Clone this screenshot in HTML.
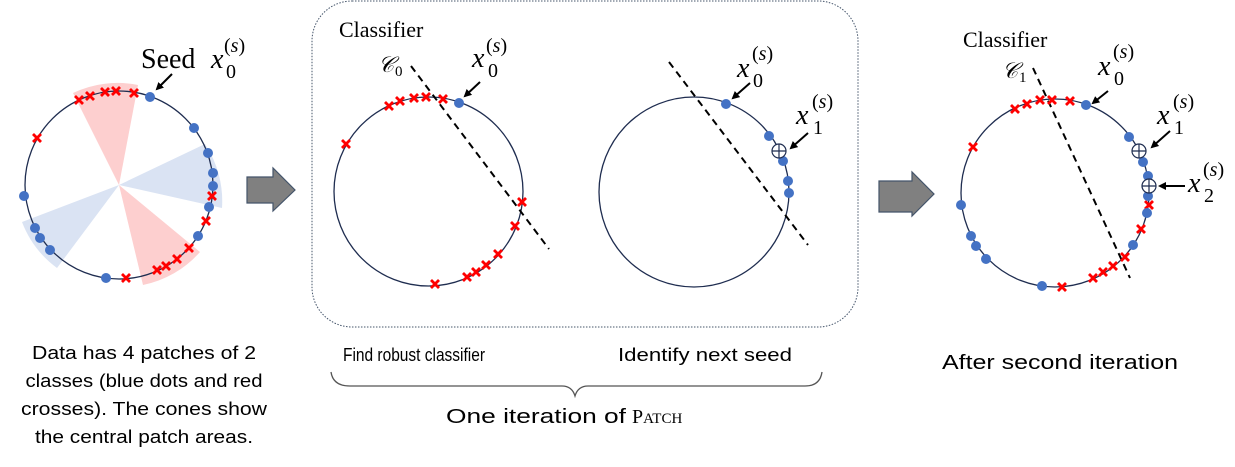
<!DOCTYPE html>
<html><head><meta charset="utf-8"><style>
html,body{margin:0;padding:0;background:#fff;}
svg{display:block;}
.m{font-family:"Liberation Serif",serif;font-style:italic;}
.r{font-family:"Liberation Serif",serif;}
.s{font-family:"Liberation Sans",sans-serif;fill:#000;}
</style></head><body>
<svg width="1235" height="467" viewBox="0 0 1235 467" xmlns="http://www.w3.org/2000/svg">
<defs>
<path id="x" d="M-4,-4L4,4M-4,4L4,-4" stroke="#ff0000" stroke-width="2.8" fill="none"/>
<circle id="d" r="5" fill="#4472C4"/>
<g id="o"><circle r="7" fill="#fff" stroke="#1f2d50" stroke-width="1.2"/><path d="M-7,0H7M0,-7V7" stroke="#1f2d50" stroke-width="1.2"/></g>
<marker id="ah" markerWidth="8" markerHeight="8" refX="6" refY="4" orient="auto" markerUnits="userSpaceOnUse"><path d="M0,0L8,4L0,8z" fill="#000"/></marker>
</defs>

<!-- LEFT -->
<g transform="translate(119,185)">
<path d="M0,0L-46,-92A103,103 0 0 1 19,-100Z" fill="#fdcfcf"/>
<path d="M0,0L24,100A103,103 0 0 0 81,67Z" fill="#fdcfcf"/>
<path d="M0,0L86,-41A103,103 0 0 1 103,23Z" fill="#dae3f3"/>
<path d="M0,0L-97,37A103,103 0 0 0 -62,83Z" fill="#dae3f3"/>
</g>
<circle cx="119" cy="185" r="94" fill="none" stroke="#1f2d50" stroke-width="1.3"/>
<use href="#x" x="79" y="100"/><use href="#x" x="90" y="96"/><use href="#x" x="105" y="92"/><use href="#x" x="116" y="91"/><use href="#x" x="134" y="93"/>
<use href="#d" x="150" y="97"/><use href="#d" x="194" y="128"/><use href="#d" x="208" y="153"/><use href="#d" x="213" y="173"/><use href="#d" x="213" y="186"/>
<use href="#x" x="212" y="196"/><use href="#d" x="209" y="207"/><use href="#x" x="206" y="221"/><use href="#d" x="198" y="236"/>
<use href="#x" x="189" y="248"/><use href="#x" x="177" y="259"/><use href="#x" x="166" y="266"/><use href="#x" x="157" y="270"/>
<use href="#d" x="106" y="278"/><use href="#x" x="126" y="278"/>
<use href="#d" x="35" y="228"/><use href="#d" x="40" y="238"/><use href="#d" x="50" y="250"/><use href="#d" x="24" y="196"/><use href="#x" x="37" y="138"/>
<text x="141" y="68" class="r" font-size="28">Seed</text>
<text x="211" y="68" class="m" font-size="28">x</text>
<text x="226" y="78" class="r" font-size="20">0</text>
<text x="224" y="52" class="r" font-size="20">(<tspan font-style="italic">s</tspan>)</text>
<line x1="172" y1="74" x2="157" y2="89" stroke="#000" stroke-width="2" marker-end="url(#ah)"/>

<!-- arrow 1 -->
<path d="M247,177H273V168L295,190L273,211V203H247Z" fill="#808080" stroke="#44546a" stroke-width="1.2"/>

<!-- MIDDLE BOX -->
<rect x="312" y="1" width="546" height="326" rx="40" fill="none" stroke="#44546a" stroke-width="1" stroke-dasharray="1.5,1.5"/>
<text x="339" y="37" class="r" font-size="22">Classifier</text>
<text x="378" y="72" class="m" font-size="22">𝒞</text>
<text x="395" y="76" class="r" font-size="15">0</text>
<circle cx="428.5" cy="191.5" r="94.5" fill="none" stroke="#1f2d50" stroke-width="1.3"/>
<line x1="411" y1="66" x2="549" y2="249" stroke="#000" stroke-width="2" stroke-dasharray="7,5"/>
<use href="#x" x="389" y="106"/><use href="#x" x="400" y="101"/><use href="#x" x="414" y="98"/><use href="#x" x="426" y="97"/><use href="#x" x="443" y="99"/>
<use href="#d" x="459" y="103"/><use href="#x" x="346" y="144"/>
<use href="#x" x="522" y="202"/><use href="#x" x="515" y="226"/><use href="#x" x="498" y="254"/><use href="#x" x="486" y="265"/><use href="#x" x="476" y="272"/><use href="#x" x="467" y="277"/><use href="#x" x="435" y="284"/>
<text x="472" y="67" class="m" font-size="28">x</text>
<text x="488" y="77" class="r" font-size="20">0</text>
<text x="486" y="52" class="r" font-size="20">(<tspan font-style="italic">s</tspan>)</text>
<line x1="480" y1="82" x2="465" y2="96" stroke="#000" stroke-width="2" marker-end="url(#ah)"/>

<circle cx="694" cy="192" r="95" fill="none" stroke="#1f2d50" stroke-width="1.3"/>
<line x1="669" y1="62" x2="808" y2="245" stroke="#000" stroke-width="2" stroke-dasharray="7,5"/>
<use href="#d" x="726" y="104"/><use href="#d" x="769" y="136"/><use href="#d" x="783" y="161"/><use href="#d" x="788" y="181"/><use href="#d" x="789" y="193"/>
<use href="#o" x="779" y="151"/>
<text x="737" y="77" class="m" font-size="28">x</text>
<text x="753" y="87" class="r" font-size="20">0</text>
<text x="752" y="60" class="r" font-size="20">(<tspan font-style="italic">s</tspan>)</text>
<line x1="750" y1="83" x2="733" y2="98" stroke="#000" stroke-width="2" marker-end="url(#ah)"/>
<text x="796" y="124" class="m" font-size="28">x</text>
<text x="813" y="134" class="r" font-size="20">1</text>
<text x="812" y="108" class="r" font-size="20">(<tspan font-style="italic">s</tspan>)</text>
<line x1="808" y1="133" x2="791" y2="148" stroke="#000" stroke-width="2" marker-end="url(#ah)"/>

<!-- arrow 2 -->
<path d="M879,181H912V172L934,194L912,216V212H879Z" fill="#808080" stroke="#44546a" stroke-width="1.2"/>

<!-- RIGHT -->
<text x="963" y="47" class="r" font-size="22">Classifier</text>
<text x="1002" y="78" class="m" font-size="22">𝒞</text>
<text x="1019" y="82" class="r" font-size="15">1</text>
<circle cx="1055" cy="193" r="94" fill="none" stroke="#1f2d50" stroke-width="1.3"/>
<line x1="1033" y1="68" x2="1130" y2="278" stroke="#000" stroke-width="2" stroke-dasharray="7,5"/>
<use href="#x" x="1015" y="109"/><use href="#x" x="1027" y="104"/><use href="#x" x="1040" y="100"/><use href="#x" x="1052" y="100"/><use href="#x" x="1070" y="101"/>
<use href="#d" x="1086" y="105"/><use href="#x" x="973" y="147"/><use href="#d" x="1129" y="137"/><use href="#d" x="1143" y="162"/><use href="#d" x="1148" y="176"/>
<use href="#x" x="1149" y="205"/><use href="#d" x="1147" y="213"/><use href="#x" x="1141" y="229"/><use href="#d" x="1133" y="245"/><use href="#x" x="1125" y="257"/>
<use href="#x" x="1113" y="266"/><use href="#x" x="1103" y="272"/><use href="#x" x="1093" y="278"/><use href="#x" x="1062" y="287"/><use href="#d" x="1042" y="286"/>
<use href="#d" x="986" y="259"/><use href="#d" x="976" y="246"/><use href="#d" x="971" y="236"/><use href="#d" x="961" y="205"/>
<use href="#d" x="1148" y="196"/>
<use href="#o" x="1139" y="151"/><use href="#o" x="1149" y="186"/>
<text x="1098" y="75" class="m" font-size="28">x</text>
<text x="1114" y="85" class="r" font-size="20">0</text>
<text x="1113" y="58" class="r" font-size="20">(<tspan font-style="italic">s</tspan>)</text>
<line x1="1108" y1="91" x2="1093" y2="103" stroke="#000" stroke-width="2" marker-end="url(#ah)"/>
<text x="1157" y="124" class="m" font-size="28">x</text>
<text x="1174" y="134" class="r" font-size="20">1</text>
<text x="1173" y="108" class="r" font-size="20">(<tspan font-style="italic">s</tspan>)</text>
<line x1="1170" y1="131" x2="1152" y2="147" stroke="#000" stroke-width="2" marker-end="url(#ah)"/>
<text x="1188" y="192" class="m" font-size="28">x</text>
<text x="1204" y="202" class="r" font-size="20">2</text>
<text x="1203" y="176" class="r" font-size="20">(<tspan font-style="italic">s</tspan>)</text>
<line x1="1185" y1="186" x2="1160" y2="186" stroke="#000" stroke-width="2" marker-end="url(#ah)"/>

<!-- TEXT -->
<g class="s" font-size="18" text-anchor="middle">
<text x="144" y="359" textLength="224" lengthAdjust="spacingAndGlyphs">Data has 4 patches of 2</text>
<text x="144" y="387" textLength="237" lengthAdjust="spacingAndGlyphs">classes (blue dots and red</text>
<text x="144" y="415" textLength="246" lengthAdjust="spacingAndGlyphs">crosses). The cones show</text>
<text x="144" y="443" textLength="218" lengthAdjust="spacingAndGlyphs">the central patch areas.</text>
<text x="414" y="361" textLength="142" lengthAdjust="spacingAndGlyphs">Find robust classifier</text>
<text x="705" y="361" textLength="174" lengthAdjust="spacingAndGlyphs">Identify next seed</text>
<text x="1060" y="369" font-size="20" textLength="236" lengthAdjust="spacingAndGlyphs">After second iteration</text>
<text x="536" y="423" font-size="20" textLength="180" lengthAdjust="spacingAndGlyphs">One iteration of</text>
</g>
<text x="632" y="423" class="r" font-size="20">P<tspan font-size="15">ATCH</tspan></text>
<path d="M331,372Q333,386 350,386H562Q572,386 575,396Q578,386 588,386H805Q820,386 822,372" fill="none" stroke="#555" stroke-width="1.3"/>
</svg>
</body></html>
